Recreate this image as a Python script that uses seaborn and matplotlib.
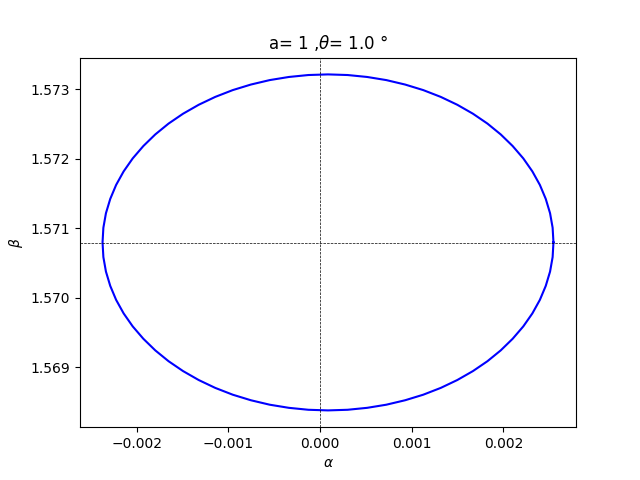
import matplotlib
matplotlib.use("Agg")
import matplotlib.pyplot as plt
import seaborn as sns
import pandas as pd

# Points (alpha, beta), going round once
alpha = [0.002546, 0.002537, 0.002509, 0.002462, 0.002398, 0.002316, 0.002217, 0.002101,
         0.001971, 0.001826, 0.001668, 0.001497, 0.001317, 0.001126, 0.000928, 0.000723,
         0.000514, 0.000301, 0.000087,
         -0.000127, -0.000340, -0.000549, -0.000754, -0.000952, -0.001143, -0.001323,
         -0.001494, -0.001652, -0.001797, -0.001927, -0.002043, -0.002142, -0.002224,
         -0.002288, -0.002335, -0.002363, -0.002372,
         -0.002363, -0.002335, -0.002288, -0.002224, -0.002142, -0.002043, -0.001927,
         -0.001797, -0.001652, -0.001494, -0.001323, -0.001143, -0.000952, -0.000754,
         -0.000549, -0.000340, -0.000127, 0.000087,
         0.000301, 0.000514, 0.000723, 0.000928, 0.001126, 0.001317, 0.001497, 0.001668,
         0.001826, 0.001971, 0.002101, 0.002217, 0.002316, 0.002398, 0.002462, 0.002509,
         0.002537, 0.002546]
beta = [1.570799, 1.571010, 1.571219, 1.571425, 1.571626, 1.571821, 1.572008, 1.572186,
        1.572353, 1.572509, 1.572651, 1.572780, 1.572893, 1.572991, 1.573071, 1.573135,
        1.573180, 1.573208, 1.573217,
        1.573208, 1.573180, 1.573135, 1.573071, 1.572991, 1.572893, 1.572780,
        1.572651, 1.572509, 1.572353, 1.572186, 1.572008, 1.571821, 1.571626,
        1.571425, 1.571219, 1.571010, 1.570799,
        1.570588, 1.570379, 1.570173, 1.569972, 1.569777, 1.569590, 1.569412,
        1.569245, 1.569089, 1.568947, 1.568818, 1.568705, 1.568607, 1.568527,
        1.568463, 1.568418, 1.568390, 1.568381,
        1.568390, 1.568418, 1.568463, 1.568527, 1.568607, 1.568705, 1.568818, 1.568947,
        1.569089, 1.569245, 1.569412, 1.569590, 1.569777, 1.569972, 1.570173, 1.570379,
        1.570588, 1.570799]

ref_alpha = 0.0
ref_beta = 1.5707963

df = pd.DataFrame({"alpha": alpha, "beta": beta})

fig, ax = plt.subplots(figsize=(6.4, 4.8), dpi=100)
sns.lineplot(data=df, x="alpha", y="beta", sort=False, estimator=None,
             color="blue", linewidth=1.5, ax=ax, solid_joinstyle="round")
ax.axvline(ref_alpha, color="black", linestyle="--", linewidth=0.5)
ax.axhline(ref_beta, color="black", linestyle="--", linewidth=0.5)
ax.ticklabel_format(useOffset=False)
ax.set_xticks([-0.002, -0.001, 0.0, 0.001, 0.002])
ax.set_yticks([1.569, 1.570, 1.571, 1.572, 1.573])
ax.set_xlabel(r"$\alpha$")
ax.set_ylabel(r"$\beta$")
ax.set_title(r"a= 1 ,$\theta$= 1.0 °")
fig.savefig("out.png", dpi=100)
